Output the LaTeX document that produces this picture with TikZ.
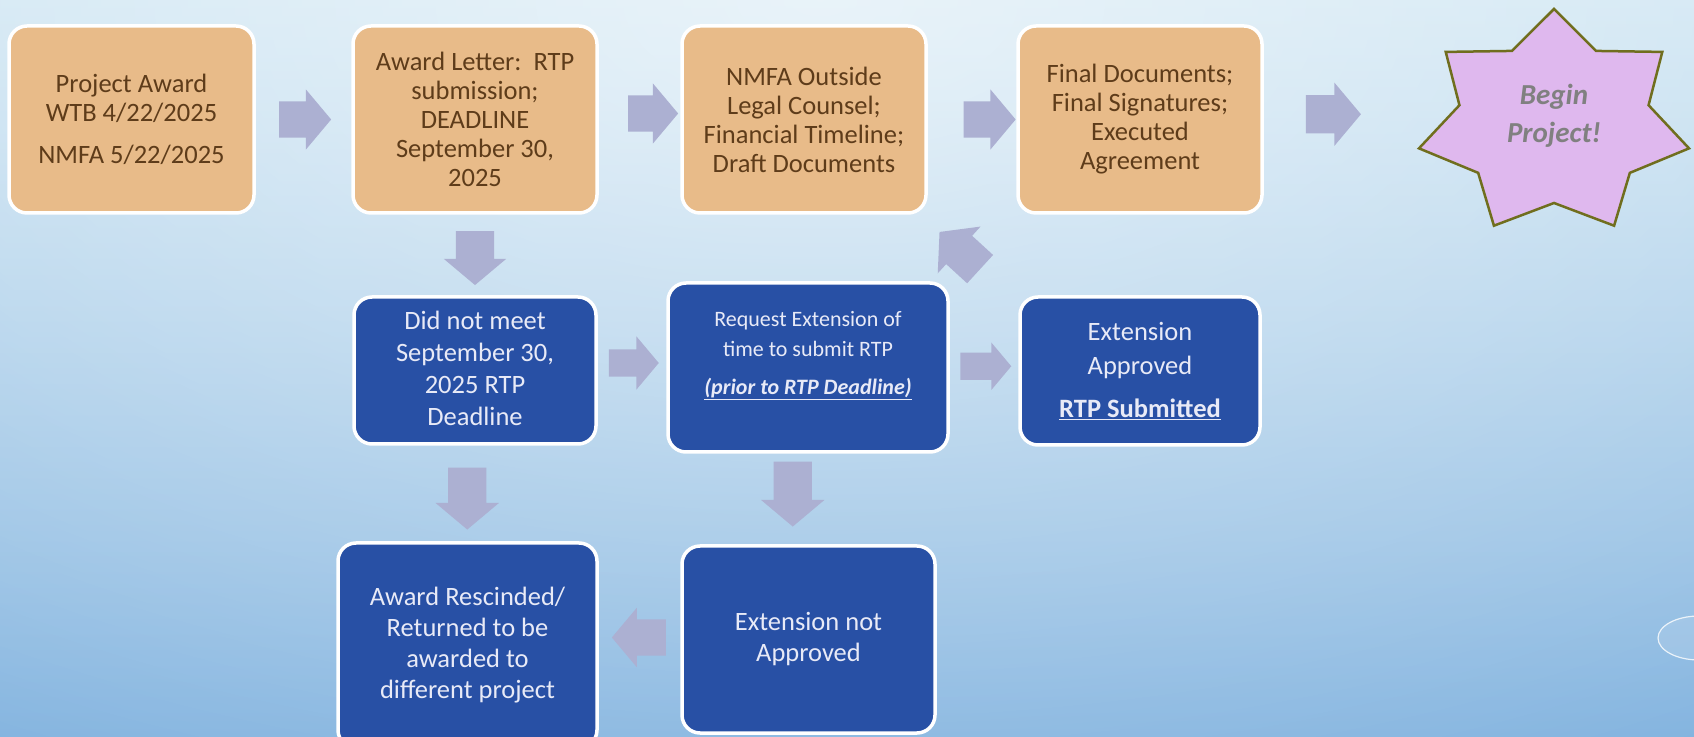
\documentclass[tikz,border=0pt]{standalone}
\usepackage{fontspec}
\setmainfont{Carlito}
\usetikzlibrary{shapes.arrows,calc,fadings}

\definecolor{bgTop}{RGB}{200,226,241}
\definecolor{bgBottom}{RGB}{130,179,223}
\definecolor{tanFill}{RGB}{232,187,137}
\definecolor{tanText}{RGB}{94,60,26}
\definecolor{navyFill}{RGB}{40,80,165}
\definecolor{navyText}{RGB}{232,234,247}
\definecolor{arrowFill}{RGB}{172,176,210}
\definecolor{starFill}{RGB}{223,184,238}
\definecolor{starLine}{RGB}{112,110,30}
\definecolor{starText}{RGB}{128,128,128}

\tikzfading[name=topGlow, inner color=transparent!0, outer color=transparent!100]

\begin{document}
\begin{tikzpicture}[x=1pt, y=1pt,
    stepbox/.style={rectangle, rounded corners=18pt, draw=white, line width=3.5pt,
      align=center, inner sep=0pt},
    tanbox/.style={stepbox, fill=tanFill, text=tanText, minimum width=244, minimum height=187,
      font=\fontsize{26.5}{29}\selectfont},
    navybox/.style={stepbox, fill=navyFill, text=navyText, font=\fontsize{26.5}{31}\selectfont},
    flowarrow/.style n args={3}{single arrow, draw=none, fill=arrowFill, inner xsep=0pt,
      inner ysep={#3/2}, single arrow tip angle=100, minimum height=#1, minimum width=#2,
      single arrow head extend={(#2-#3)/2}}]

  % Background
  \clip (0,0) rectangle (1694,736);
  \shade[top color=bgTop, bottom color=bgBottom] (0,0) rectangle (1694,736);
  \fill[white, fill opacity=0.6, path fading=topGlow] (820,736) ellipse (1700 and 900);
  \draw[white, draw opacity=0.8, line width=1.2pt, fill=white, fill opacity=0.12] (1699,98) ellipse (41 and 22);

  % Top row
  \node[tanbox, minimum width=245] (award) at (131.5,616.5)
    {Project Award\\ WTB 4/22/2025\\[13pt] NMFA 5/22/2025};
  \node[tanbox] (letter) at (475,616.5)
    {Award Letter:~~RTP\\ submission;\\ DEADLINE\\ September 30,\\ 2025};
  \node[tanbox] (counsel) at (804,616.5)
    {NMFA Outside\\ Legal Counsel;\\ Financial Timeline;\\ Draft Documents};
  \node[tanbox] (final) at (1140,616.5)
    {Final Documents;\\ Final Signatures;\\ Executed\\ Agreement};

  % Star
  \begin{scope}[shift={(1554,613)}]
    \filldraw[draw=starLine, fill=starFill, line width=2.5pt, line join=miter]
      (90:138.5 and 114)
      \foreach \k [evaluate=\k as \ang using 90+\k*360/14,
                   evaluate=\k as \rx using {mod(\k,2)==0 ? 138.5 : 97},
                   evaluate=\k as \ry using {mod(\k,2)==0 ? 114 : 80}] in {1,...,13}{
        -- (\ang:{\rx} and {\ry})} -- cycle;
    \coordinate (starLeft) at (-135,0);
    \node[text=starText, font=\fontsize{29}{38}\selectfont\bfseries\itshape, align=center]
      (begin) at (0,7) {Begin\\ Project!};
  \end{scope}

  % Middle row
  \node[navybox, minimum width=242, minimum height=147, font=\fontsize{26.5}{32}\selectfont] (notmet) at (475,365.5)
    {\mbox{}\\[-18pt] Did not meet\\ September 30,\\ 2025 RTP\\ Deadline};
  \node[navybox, minimum width=280, minimum height=169, font=\fontsize{22}{30}\selectfont] (request) at (808,368.5)
    {Request Extension of\\ time to submit RTP\\[8pt] \textbf{\textit{\underline{(prior to RTP Deadline)}}}\\ \mbox{}};
  \node[navybox, minimum width=240, minimum height=148, font=\fontsize{26.5}{34}\selectfont] (approved) at (1140,365)
    {Extension\\ Approved\\[9pt] \textbf{\underline{RTP Submitted}}};

  % Bottom row
  \node[navybox, minimum width=259, minimum height=205] (rescind) at (467.5,90.5)
    {Award Rescinded/\\ Returned to be\\ awarded to\\ different project};
  \node[navybox, minimum width=253, minimum height=187] (notappr) at (808.5,96.5)
    {Extension not\\ Approved};

  % Arrows between the steps
  \foreach \from/\to/\dx/\dy/\len/\head/\shaft in {
      award/letter/-6/0/52/60/36, letter/counsel/6/6/50/60/36,
      counsel/final/10/0/52/60/36,
      notmet/request/-4/6/50/53/27, request/approved/-4/3/51/47/27}
    \node[flowarrow={\len}{\head}{\shaft}] (arr-\from) at ($(\from.east)!0.5!(\to.west)+(\dx,\dy)$) {};
  \node[flowarrow={55}{63}{38}] (arr-final) at ($(final.east)!0.5!(starLeft)+(-16,7)$) {};
  \foreach \from/\to/\dx/\dy/\len/\head/\shaft in {
      letter/notmet/0/5/54/62/38, notmet/rescind/-4/3/62/63/38,
      request/notappr/-15.5/13/65/63/38}
    \node[flowarrow={\len}{\head}{\shaft}, rotate=-90] (arr-\from) at ($(\from.south)!0.5!(\to.north)+(\dx,\dy)$) {};
  \node[flowarrow={54}{59}{36}, rotate=180] (arr-notappr) at ($(notappr.west)!0.5!(rescind.east)+(7,5)$) {};
  \node[flowarrow={55}{63}{38}, rotate=137.5] (arr-up) at ($(request.north east)!0.5!(counsel.south east)+(27,-8)$) {};
\end{tikzpicture}
\end{document}
